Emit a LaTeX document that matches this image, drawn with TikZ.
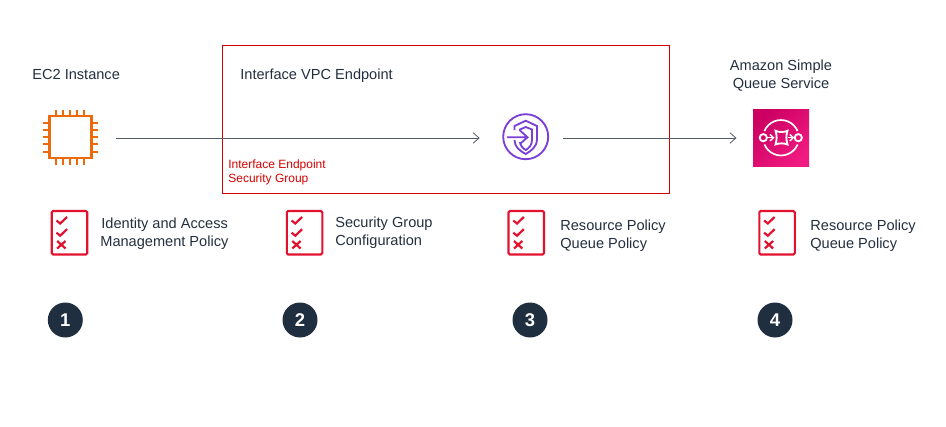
\documentclass[tikz,border=0pt]{standalone}
\usepackage{fontspec}
\setmainfont{Liberation Sans}
\usetikzlibrary{arrows.meta}
\definecolor{inkdark}{HTML}{232F3E}
\definecolor{badgedark}{HTML}{1F2F3F}
\definecolor{flowgrey}{HTML}{545B64}
\definecolor{chiporange}{HTML}{ED6A0C}
\definecolor{shieldpurple}{HTML}{7C3FD6}
\definecolor{listred}{HTML}{E2122F}
\definecolor{boxred}{HTML}{D40000}
\definecolor{pinklow}{HTML}{CC0062}
\definecolor{pinkhigh}{HTML}{F01A80}
\tikzset{
  caption/.style={anchor=west,align=left,text=inkdark,inner sep=0pt,font=\fontsize{8.3}{10.2}\selectfont},
  badge/.style={circle,fill=badgedark,text=white,minimum size=0.7cm,inner sep=0pt,font=\fontsize{10.5}{12}\selectfont\bfseries},
  flow/.style={->,>={Straight Barb[length=1.2mm,width=2.1mm]},draw=flowgrey,line width=0.45pt},
  icon/.style={minimum size=1.1cm,inner sep=0pt,outer sep=0pt},
  pics/checklist/.style={code={
    \draw[listred,line width=1.2pt,rounded corners=0.8pt] (0,0) rectangle (35.5,43.5);
    \draw[listred,line width=1.25pt] (4.8,9.5) -- (8.5,12.5) -- (15.3,6);
    \draw[listred,line width=1.25pt] (4.8,21.7) -- (8.5,24.7) -- (15.3,18.2);
    \draw[listred,line width=1.25pt] (5.5,30) -- (13.8,37.5) (13.8,30) -- (5.5,37.5);
  }}
}
\begin{document}
\begin{tikzpicture}[x=0.02cm,y=-0.02cm]
\useasboundingbox (0,0) rectangle (946,426);
% red endpoint box
\node[draw=boxred,line width=0.55pt,minimum width=8.96cm,minimum height=2.96cm,inner sep=0pt] (vpcbox) at (446,119) {};
\node[anchor=west,inner sep=0pt,text=boxred,align=left,font=\fontsize{6.83}{8}\selectfont] (sglabel) at (228,172) {Interface Endpoint\\Security Group};
% icons
\node[icon] (ec2) at (70.5,138) {};
\node[icon,minimum size=0.9cm] (endpoint) at (525.7,138) {};
\node[icon] (sqs) at (781,138) {};
% ec2
\draw[chiporange,line width=1.4pt] (49.5,116) rectangle (91.5,158);
\foreach \p in {56,63,70.3,77.3,84.3} \draw[chiporange,line width=1.35pt] (\p,110) -- (\p,116) (\p,158) -- (\p,165);
\foreach \p in {123,130,137.3,144.3,151.7} \draw[chiporange,line width=1.35pt] (43,\p) -- (49.5,\p) (91.5,\p) -- (98,\p);
% endpoint
\draw[shieldpurple,line width=1.05pt] (525.7,136.7) circle (22.5);
\draw[shieldpurple,line width=1.05pt] (514.5,130) -- (514.5,126) -- (525.7,120.7) -- (537,126) -- (537,139) .. controls (537,147) and (531,151) .. (525.7,154) .. controls (520,151) and (514.5,147) .. (514.5,140);
\draw[shieldpurple,line width=1.05pt] (520,131) -- (520,129.5) -- (525.7,127) -- (532,129.5) -- (532,140) .. controls (532,145) and (529,148) .. (525.7,150) .. controls (522.5,148) and (520,145) .. (520,142);
\draw[shieldpurple,line width=1.05pt] (507,137.3) -- (527.5,137.3) (520.5,131) -- (527.5,137.3) -- (520.5,143.5);
% sqs
\fill[left color=pinklow,right color=pinkhigh,shading angle=45] (753,109) rectangle (809,166);
\draw[white,line width=0.95pt] (764.4,131) arc[start angle=-157,end angle=-23,radius=18] (797.6,144.5) arc[start angle=23,end angle=157,radius=18];
\draw[white,line width=1.05pt] (763.3,137.7) circle (3.6) (798.3,137.7) circle (3.6);
\draw[white,line width=1.05pt] (775.5,130.7) .. controls (779,132.5) and (784,132.5) .. (787.5,130.7) .. controls (786,135) and (786,140) .. (787.5,144.5) .. controls (784,143) and (779,143) .. (775.5,144.5) .. controls (777,140) and (777,135) .. (775.5,130.7) -- cycle;
\draw[white,line width=0.8pt,-{Straight Barb[length=0.7mm,width=1.3mm]}] (767.5,137.7) -- (774.5,137.7);
\draw[white,line width=0.8pt,-{Straight Barb[length=0.7mm,width=1.3mm]}] (787.5,137.7) -- (794.3,137.7);
% flows
\draw[flow,shorten <=0.36cm,shorten >=0.47cm] (ec2) -- (endpoint);
\draw[flow,shorten <=0.3cm,shorten >=0.34cm] (endpoint) -- (sqs);
% headings
\node[caption] (ec2label) at (32,74) {EC2 Instance};
\node[caption] (vpclabel) at (240,75.5) {Interface VPC Endpoint};
\node[caption,anchor=center,align=center] (sqslabel) at (781,75.5) {Amazon Simple\\Queue Service};
% checklists
\pic at (51.7,211) {checklist};
\pic at (286.8,211) {checklist};
\pic at (508.5,211) {checklist};
\pic at (759.3,211) {checklist};
\node[caption] (iamtext) at (100,234) {\hspace{0.6pt}Identity and Access\\Management Policy};
\node[caption] (sgtext) at (335,233) {Security Group\\Configuration};
\node[caption] (restexta) at (560,236) {Resource Policy\\Queue Policy};
\node[caption] (restextb) at (810,236) {Resource Policy\\Queue Policy};
% numbers
\node[badge] (one) at (65.3,320) {1};
\node[badge] (two) at (300,320) {2};
\node[badge] (three) at (530,320) {3};
\node[badge] (four) at (775,320) {4};
\end{tikzpicture}
\end{document}
